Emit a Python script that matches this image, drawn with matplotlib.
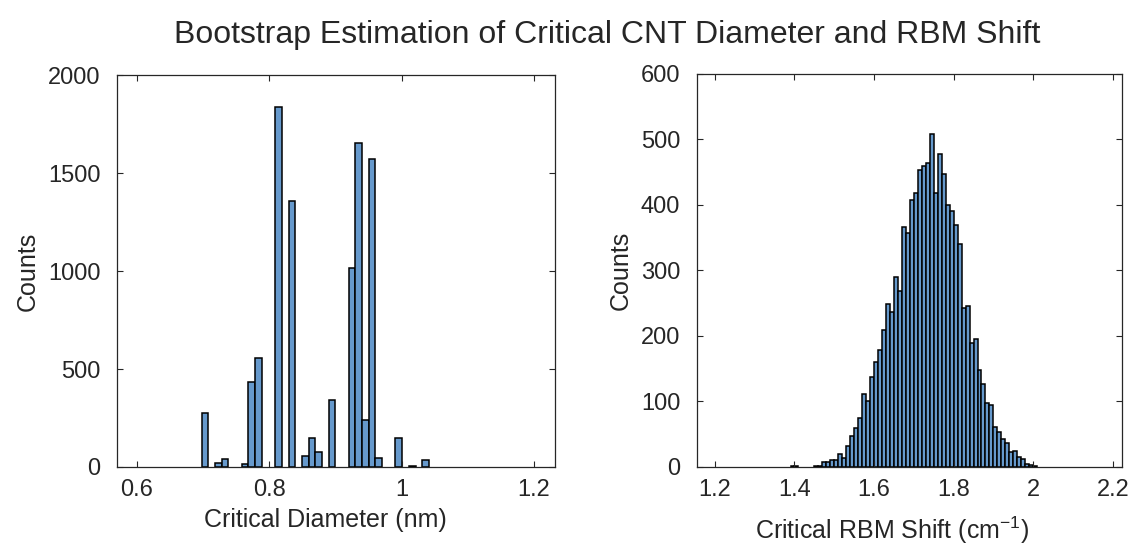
import matplotlib
matplotlib.use('Agg')
import matplotlib.pyplot as plt
import numpy as np

# Left histogram: critical diameter (nm), bins start at diam_start, width diam_width
diam_start = 0.698
diam_width = 0.0101
diam_counts = [274, 0, 19, 39, 0, 0, 17, 435, 558, 0,
               0, 1838, 0, 1359, 0, 56, 146, 78, 0, 342,
               0, 0, 1014, 1655, 240, 1571, 48, 0, 0, 146,
               0, 5, 0, 36]

# Right histogram: critical RBM shift (cm^-1), bins of 0.01 starting at 1.38
rbm_start = 1.38
rbm_width = 0.01
rbm_counts = [0, 2, 1, 0, 0, 0, 0, 1, 2, 8,
              8, 11, 11, 20, 14, 32, 48, 59, 75, 112,
              100, 138, 160, 179, 209, 249, 237, 290, 268, 366,
              357, 408, 418, 454, 459, 464, 508, 418, 478, 448,
              400, 391, 370, 340, 243, 246, 189, 196, 148, 127,
              97, 94, 61, 54, 42, 36, 23, 24, 16, 12,
              5, 3, 1]

plt.rcParams['font.family'] = ['Liberation Sans', 'DejaVu Sans']
plt.rcParams['mathtext.default'] = 'regular'
text_col = '#262626'
face_col = '#6699cc'

fig = plt.figure(figsize=(11.35, 5.52), dpi=100)
ax1 = fig.add_axes([0.1031, 0.154, 0.3859, 0.710])
ax2 = fig.add_axes([0.6141, 0.154, 0.3744, 0.712])

def draw_hist(ax, start, width, counts, lw):
    lefts = start + width * np.arange(len(counts))
    counts = np.array(counts)
    keep = counts > 0
    ax.bar(lefts[keep], counts[keep], width=width, align='edge',
           color=face_col, edgecolor='black', linewidth=lw)

def style(ax):
    ax.tick_params(direction='in', top=True, right=True, length=4,
                   labelsize=17, colors=text_col)
    ax.tick_params(axis='x', pad=9)
    ax.tick_params(axis='y', pad=12)
    for s in ax.spines.values():
        s.set_color(text_col)
        s.set_linewidth(0.9)

draw_hist(ax1, diam_start, diam_width, diam_counts, 1.1)
ax1.set_xlim(0.57, 1.232)
ax1.set_ylim(0, 2000)
ax1.set_xticks([0.6, 0.8, 1.0, 1.2])
ax1.set_xticklabels(['0.6', '0.8', '1', '1.2'])
ax1.set_yticks([0, 500, 1000, 1500, 2000])
ax1.set_xlabel('Critical Diameter (nm)', fontsize=18, color=text_col, labelpad=9)
ax1.xaxis.set_label_coords(0.475, -0.105, transform=ax1.transAxes)
ax1.xaxis.label.set_va('top')
ax1.set_ylabel('Counts', fontsize=18, color=text_col, labelpad=6)
style(ax1)

draw_hist(ax2, rbm_start, rbm_width, rbm_counts, 1.1)
ax2.set_xlim(1.155, 2.223)
ax2.set_ylim(0, 600)
ax2.set_xticks([1.2, 1.4, 1.6, 1.8, 2.0, 2.2])
ax2.set_xticklabels(['1.2', '1.4', '1.6', '1.8', '2', '2.2'])
ax2.set_yticks(np.arange(0, 601, 100))
ax2.set_xlabel('Critical RBM Shift (cm$^{-1}$)', fontsize=18, color=text_col)
ax2.xaxis.set_label_coords(0.459, -0.122, transform=ax2.transAxes)
ax2.xaxis.label.set_va('top')
ax2.set_ylabel('Counts', fontsize=18, color=text_col, labelpad=6)
style(ax2)

fig.text(0.535, 0.937, 'Bootstrap Estimation of Critical CNT Diameter and RBM Shift',
         ha='center', va='center', fontsize=23, color=text_col)

fig.savefig('out.png', dpi=100)
